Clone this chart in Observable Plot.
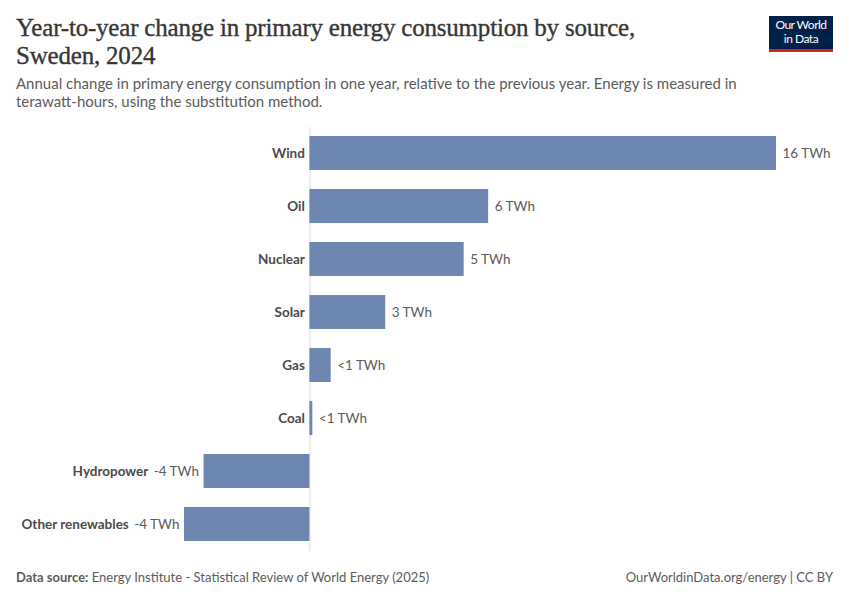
<!DOCTYPE html>
<html>
<head>
<meta charset="utf-8">
<script src="https://cdn.jsdelivr.net/npm/d3@7"></script>
<script src="https://cdn.jsdelivr.net/npm/@observablehq/plot@0.6"></script>
<style>
  html, body { margin: 0; padding: 0; background: #fff; }
  #wrap { position: relative; width: 850px; height: 600px; overflow: hidden; font-family: Lato, "Noto Sans", sans-serif; }
  #title { position: absolute; left: 16px; top: 14px; width: 700px; font-family: "Liberation Serif", "DejaVu Serif", serif; font-size: 25px; line-height: 28px; color: #363636; letter-spacing: -0.2px; -webkit-text-stroke: 0.35px #363636; }
  #subtitle { position: absolute; left: 16px; top: 74px; width: 760px; font-size: 15px; line-height: 18px; color: #5b5b5b; }
  #logo { position: absolute; left: 769px; top: 16px; width: 64px; height: 36px; background: #002147; border-bottom: 3px solid #ce261e; box-sizing: border-box; color: #fff; font-size: 12px; line-height: 14px; text-align: center; padding-top: 2px; letter-spacing: -0.5px; }
  #chart { position: absolute; left: 0; top: 120px; }
  #source { position: absolute; left: 16px; top: 569px; font-size: 13px; color: #5b5b5b; }
  #source b { font-weight: 700; }
  #license { position: absolute; right: 17px; top: 569px; font-size: 13px; color: #5b5b5b; }
</style>
</head>
<body>
<div id="wrap">
  <div id="title">Year-to-year change in primary energy consumption by source, Sweden, 2024</div>
  <div id="subtitle">Annual change in primary energy consumption in one year, relative to the previous year. Energy is measured in terawatt-hours, using the substitution method.</div>
  <div id="logo">Our World<br>in Data</div>
  <div id="chart"></div>
  <div id="source"><b>Data source:</b> Energy Institute - Statistical Review of World Energy (2025)</div>
  <div id="license">OurWorldinData.org/energy | CC BY</div>
</div>
<script>
// Data (TWh change, 2024 vs 2023)
const sources = ["Wind", "Oil", "Nuclear", "Solar", "Gas", "Coal", "Hydropower", "Other renewables"];
const changes = [16.0, 6.13, 5.29, 2.6, 0.73, 0.10, -3.63, -4.30];

const barColor = "#6d87b0";
const data = sources.map((s, i) => ({source: s, value: changes[i]}));
const fmt = v => Math.abs(v) < 1 ? (v < 0 ? ">-1 TWh" : "<1 TWh") : `${Math.round(v)} TWh`;

const FS = 13.5;
const ctx = document.createElement("canvas").getContext("2d");
ctx.font = `${FS}px Lato`;
const textW = t => ctx.measureText(t).width;

const pos = data.filter(d => d.value >= 0);
const neg = data.filter(d => d.value < 0);

const catStyle = {fill: "#4a4a4a", fontWeight: 700, fontSize: FS, fontFamily: "Lato"};
const valStyle = {fill: "#5b5b5b", fontSize: FS, fontFamily: "Lato"};

const marks = [
  Plot.ruleX([0], {stroke: "#dcdcdc", strokeWidth: 1}),
  Plot.barX(data, {x: "value", y: "source", fill: barColor}),
  // positive: category at the axis, value after bar end
  Plot.text(pos, {x: 0, y: "source", text: "source", textAnchor: "end", dx: -5, ...catStyle}),
  Plot.text(pos, {x: "value", y: "source", text: d => fmt(d.value), textAnchor: "start", dx: 6, ...valStyle}),
  // negative: value before bar start, category before value
  Plot.text(neg, {x: "value", y: "source", text: d => fmt(d.value), textAnchor: "end", dx: -5, ...valStyle}),
  ...neg.map(d => Plot.text([d], {x: "value", y: "source", text: "source", textAnchor: "end", dx: -(textW(fmt(d.value)) + 10), ...catStyle}))
];

const chart = Plot.plot({
  width: 850,
  height: 440,
  marginTop: 7,
  marginBottom: 9,
  marginLeft: 184,
  marginRight: 74,
  style: {fontFamily: "Lato", background: "transparent"},
  x: {domain: [-4.30, 16.0], axis: null},
  y: {domain: sources, axis: null, paddingInner: 0.356, paddingOuter: 0.178},
  marks
});
document.getElementById("chart").appendChild(chart);
</script>
</body>
</html>
